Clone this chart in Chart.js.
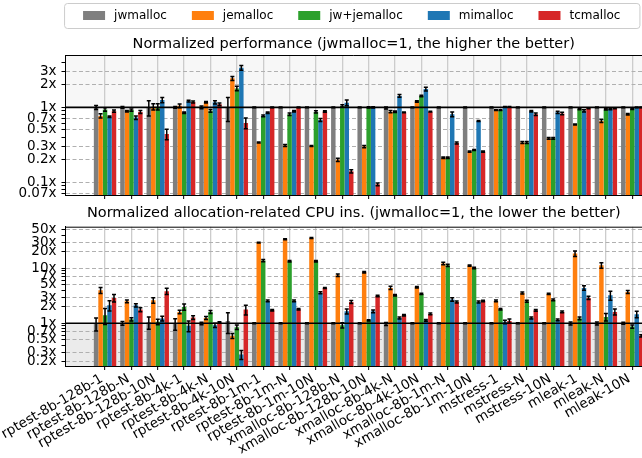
<!DOCTYPE html>
<html>
<head>
<meta charset="utf-8">
<script src="https://cdn.jsdelivr.net/npm/chart.js@4.4.1/dist/chart.umd.min.js"></script>
<style>
  html, body { margin: 0; padding: 0; background: #fff; }
  #wrap { position: relative; width: 642px; height: 458px; overflow: hidden; }
  canvas { position: absolute; left: 0; }
  #perf { top: 0; }
  #cpu { top: 200px; }
</style>
</head>
<body>
<div id="wrap">
  <canvas id="perf" width="642" height="200"></canvas>
  <canvas id="cpu" width="642" height="258"></canvas>
</div>
<script>
const categories = ['rptest-8b-128b-1', 'rptest-8b-128b-N', 'rptest-8b-128b-10N', 'rptest-8b-4k-1',
  'rptest-8b-4k-N', 'rptest-8b-4k-10N', 'rptest-8b-1m-1', 'rptest-8b-1m-N', 'rptest-8b-1m-10N',
  'xmalloc-8b-128b-N', 'xmalloc-8b-128b-10N', 'xmalloc-8b-4k-N', 'xmalloc-8b-4k-10N',
  'xmalloc-8b-1m-N', 'xmalloc-8b-1m-10N', 'mstress-1', 'mstress-N', 'mstress-10N',
  'mleak-1', 'mleak-N', 'mleak-10N'];
const allocators = ['jwmalloc', 'jemalloc', 'jw+jemalloc', 'mimalloc', 'tcmalloc'];
const colors = ['#7f7f7f', '#ff7f0e', '#2ca02c', '#1f77b4', '#d62728'];

// normalized performance (higher is better)
const perfJw   = [1, 1, 1, 1, 1, 1, 1, 1, 1, 1, 1, 0.98, 1, 1, 1, 1, 1, 1, 1, 1, 1];
const perfJe   = [0.77, 0.89, 1.02, 1.05, 1.17, 2.44, 0.34, 0.31, 0.305, 0.2, 0.3, 0.875, 1.2, 0.213, 0.256, 0.92, 0.34, 0.386, 0.59, 0.66, 0.81];
const perfJwJe = [0.94, 0.92, 1.02, 0.85, 0.9, 1.79, 0.77, 0.81, 0.87, 1.04, 1.0, 0.875, 1.42, 0.213, 0.27, 0.92, 0.34, 0.386, 0.95, 0.94, 0.96];
const perfMi   = [0.75, 0.73, 1.25, 1.21, 1.17, 3.38, 0.85, 0.89, 0.68, 1.15, 1.0, 1.42, 1.76, 0.81, 0.66, 1.02, 0.89, 0.86, 0.9, 0.95, 1.0];
const perfTc   = [0.89, 0.87, 0.44, 1.18, 1.1, 0.62, 1.0, 1.0, 0.88, 0.14, 0.094, 0.86, 0.875, 0.335, 0.256, 1.02, 0.81, 0.83, 0.97, 0.97, 1.0];
const perfJwErr   = [0.06, 0.03, 0.23, 0.03, 0.04, 0.35, 0.01, 0.01, 0.01, 0.01, 0.01, 0.03, 0.01, 0.01, 0.01, 0.01, 0.01, 0.01, 0.01, 0.01, 0.01];
const perfJeErr   = [0.05, 0.02, 0.1, 0.06, 0.03, 0.15, 0.005, 0.01, 0.005, 0.01, 0.01, 0.03, 0.03, 0.005, 0.005, 0.01, 0.01, 0.01, 0.01, 0.03, 0.02];
const perfJwJeErr = [0.05, 0.03, 0.1, 0.02, 0.04, 0.12, 0.02, 0.03, 0.03, 0.04, 0.02, 0.02, 0.03, 0.005, 0.005, 0.01, 0.01, 0.01, 0.02, 0.02, 0.02];
const perfMiErr   = [0.02, 0.04, 0.1, 0.03, 0.06, 0.25, 0.02, 0.02, 0.03, 0.1, 0.02, 0.06, 0.1, 0.06, 0.01, 0.01, 0.02, 0.03, 0.03, 0.02, 0.01];
const perfTcErr   = [0.03, 0.04, 0.07, 0.04, 0.04, 0.1, 0.01, 0.01, 0.02, 0.007, 0.004, 0.01, 0.01, 0.01, 0.005, 0.01, 0.03, 0.03, 0.01, 0.01, 0.01];

// normalized allocation-related CPU instructions (lower is better)
const cpuJw   = [0.98, 1.0, 1.04, 0.98, 0.99, 1.1, 1, 1, 1, 1, 1, 0.97, 1, 1, 1, 1, 1, 1, 0.99, 0.99, 1];
const cpuJe   = [3.98, 2.51, 2.62, 1.61, 1.25, 0.59, 29.3, 33.7, 35.6, 7.47, 8.47, 4.39, 4.52, 12.2, 11.2, 2.55, 3.56, 3.42, 18.5, 11.3, 3.71];
const cpuJwJe = [1.4, 1.18, 1.06, 1.98, 1.61, 0.85, 13.8, 13.4, 13.4, 0.92, 1.13, 3.23, 3.42, 11.3, 10.1, 1.8, 2.51, 2.66, 1.23, 1.3, 0.87];
const cpuMi   = [2.12, 2.12, 1.22, 0.9, 0.92, 0.27, 2.55, 2.55, 3.6, 1.65, 1.65, 1.25, 1.13, 2.7, 2.44, 1.06, 1.25, 1.15, 4.39, 3.23, 1.46];
const cpuTc   = [2.89, 1.77, 3.82, 1.27, 1.03, 1.77, 1.72, 1.8, 4.39, 2.44, 3.14, 1.4, 1.48, 2.44, 2.55, 1.1, 1.72, 1.61, 2.89, 1.61, 0.59];
const cpuJwErr   = [0.26, 0.08, 0.26, 0.23, 0.05, 0.45, 0.02, 0.02, 0.02, 0.02, 0.02, 0.06, 0.02, 0.02, 0.02, 0.02, 0.02, 0.02, 0.06, 0.06, 0.04];
const cpuJeErr   = [0.5, 0.15, 0.3, 0.12, 0.08, 0.06, 0.5, 0.8, 0.8, 0.4, 0.3, 0.3, 0.15, 0.6, 0.3, 0.1, 0.15, 0.1, 2.2, 1.3, 0.25];
const cpuJwJeErr = [0.45, 0.08, 0.12, 0.25, 0.1, 0.08, 0.6, 0.4, 0.4, 0.1, 0.03, 0.1, 0.1, 0.5, 0.3, 0.06, 0.1, 0.1, 0.07, 0.2, 0.06];
const cpuMiErr   = [0.45, 0.15, 0.12, 0.2, 0.08, 0.05, 0.1, 0.1, 0.15, 0.17, 0.1, 0.05, 0.04, 0.2, 0.1, 0.08, 0.05, 0.04, 0.4, 0.6, 0.2];
const cpuTcErr   = [0.45, 0.15, 0.5, 0.1, 0.03, 0.35, 0.05, 0.05, 0.1, 0.15, 0.1, 0.05, 0.05, 0.1, 0.08, 0.1, 0.06, 0.06, 0.2, 0.2, 0.03];

// y tick labels
const perfTicks = [0.07, 0.1, 0.2, 0.3, 0.5, 0.7, 1, 2, 3];
const perfMinorTicks = [0.08, 0.09, 0.4, 0.6, 0.8, 0.9, 4];
const cpuTicks = [0.2, 0.3, 0.5, 0.7, 1, 2, 3, 5, 7, 10, 20, 30, 50];
const cpuMinorTicks = [0.4, 0.6, 0.8, 0.9, 4, 6, 8, 9, 40];

const FONT = '"DejaVu Sans", sans-serif';

// shaded "better" region, error bars, the 1x reference line and the top spine
const panelDecor = {
  id: 'panelDecor',
  beforeDraw(chart, args, opts) {
    const { ctx, chartArea: a } = chart;
    const y1 = chart.scales.y.getPixelForValue(1);
    ctx.save();
    ctx.fillStyle = opts.shade;
    if (opts.better === 'above') ctx.fillRect(a.left, a.top, a.right - a.left, y1 - a.top);
    else ctx.fillRect(a.left, y1, a.right - a.left, a.bottom - y1);
    ctx.restore();
  },
  afterDatasetsDraw(chart) {
    const { ctx, chartArea: a } = chart;
    const ys = chart.scales.y;
    ctx.save();
    ctx.beginPath();
    ctx.rect(a.left, a.top, a.right - a.left, a.bottom - a.top);
    ctx.clip();
    ctx.strokeStyle = '#000';
    ctx.lineWidth = 1.5;
    chart.data.datasets.forEach((ds, di) => {
      chart.getDatasetMeta(di).data.forEach((bar, i) => {
        const v = ds.data[i].y, e = ds.errors[i];
        const top = ys.getPixelForValue(v + e);
        const bot = ys.getPixelForValue(Math.max(v - e, ys.min));
        ctx.beginPath();
        ctx.moveTo(bar.x, top); ctx.lineTo(bar.x, bot);
        ctx.moveTo(bar.x - 2, top); ctx.lineTo(bar.x + 2, top);
        ctx.moveTo(bar.x - 2, bot); ctx.lineTo(bar.x + 2, bot);
        ctx.stroke();
      });
    });
    const y1 = ys.getPixelForValue(1);
    ctx.lineWidth = 1.6;
    ctx.beginPath();
    ctx.moveTo(a.left, y1); ctx.lineTo(a.right, y1);
    ctx.stroke();
    ctx.restore();
    ctx.save();
    ctx.strokeStyle = '#000';
    ctx.lineWidth = 1;
    ctx.beginPath();
    ctx.moveTo(a.left, a.top + 0.5); ctx.lineTo(a.right, a.top + 0.5);
    ctx.stroke();
    ctx.restore();
  }
};

// matplotlib-like framed legend above the top panel
const boxLegend = {
  id: 'boxLegend',
  afterDraw(chart, args, opts) {
    if (!opts.show) return;
    const { ctx, chartArea: a } = chart;
    const items = chart.data.datasets;
    ctx.save();
    ctx.font = '12px ' + FONT;
    const handleW = 22, handleH = 9, textGap = 9, colGap = 25, padX = 19, boxH = 25, cy = 15.5;
    const widths = items.map(d => handleW + textGap + ctx.measureText(d.label).width);
    const total = widths.reduce((s, w) => s + w, 0) + colGap * (items.length - 1);
    let x = (a.left + a.right) / 2 - total / 2 - 2;
    ctx.beginPath();
    ctx.roundRect(x - padX + 0.5, cy - boxH / 2 + 0.5, total + 2 * padX, boxH, 3);
    ctx.fillStyle = 'rgba(255,255,255,0.8)';
    ctx.fill();
    ctx.strokeStyle = '#cccccc';
    ctx.lineWidth = 1;
    ctx.stroke();
    ctx.textBaseline = 'middle';
    ctx.textAlign = 'left';
    items.forEach((d, i) => {
      ctx.fillStyle = d.backgroundColor;
      ctx.fillRect(x, cy - handleH / 2, handleW, handleH);
      ctx.fillStyle = '#000';
      ctx.fillText(d.label, x + handleW + textGap, cy + 0.5);
      x += widths[i] + colGap;
    });
    ctx.restore();
  }
};

function makeDatasets(series, errs) {
  return allocators.map((name, k) => ({
    label: name,
    data: series[k].map((v, i) => ({ x: i, y: v })),
    errors: errs[k],
    backgroundColor: colors[k],
    borderWidth: 0,
    categoryPercentage: 0.85,
    barPercentage: 1.0
  }));
}

function makeChart(id, title, series, errs, majors, minors, yMin, yMax, cfg) {
  const allTicks = majors.concat(minors).sort((p, q) => p - q);
  return new Chart(document.getElementById(id).getContext('2d'), {
    type: 'bar',
    data: { datasets: makeDatasets(series, errs) },
    plugins: [panelDecor, boxLegend],
    options: {
      responsive: false,
      animation: false,
      devicePixelRatio: 1,
      layout: { padding: cfg.padding },
      plugins: {
        legend: { display: false },
        tooltip: { enabled: false },
        title: {
          display: true, text: title, fullSize: false, color: '#000',
          font: { family: FONT, size: 14.5, weight: 'normal' },
          padding: cfg.titlePad
        },
        panelDecor: { better: cfg.better, shade: cfg.shade },
        boxLegend: { show: cfg.legend }
      },
      scales: {
        x: {
          type: 'linear',
          min: -1.5, max: 20.37,
          offset: false,
          afterBuildTicks: s => { s.ticks = categories.map((c, i) => ({ value: i })); },
          afterFit: s => { s.height = cfg.xHeight; s.paddingLeft = 0; s.paddingRight = 0; },
          grid: { color: '#cccccc', lineWidth: 1.3, offset: false, tickColor: '#000', tickLength: 4, tickWidth: 1 },
          border: { display: true, color: '#000', width: 1 },
          ticks: {
            display: cfg.showLabels, autoSkip: false, minRotation: 30, maxRotation: 30,
            padding: 1, labelOffset: -3, color: '#000',
            font: { family: FONT, size: 13.5 },
            callback: v => categories[v]
          }
        },
        y: {
          type: 'logarithmic',
          min: yMin, max: yMax,
          afterBuildTicks: s => { s.ticks = allTicks.map(v => ({ value: v })); },
          afterFit: s => { s.width = 65.5; s.paddingTop = 0; s.paddingBottom = 0; },
          grid: {
            color: c => (c.tick && c.tick.value !== 1 && majors.includes(c.tick.value)) ? '#b0b0b0' : 'rgba(0,0,0,0)',
            lineWidth: 1, tickColor: '#000', tickLength: 4, tickWidth: 1
          },
          border: { display: true, color: '#000', width: 1, dash: [4, 2.5] },
          ticks: {
            autoSkip: false, padding: 5, color: '#000',
            font: { family: FONT, size: 13.5 },
            callback: v => majors.includes(v) ? v + 'x' : ''
          }
        }
      }
    }
  });
}

makeChart('perf', 'Normalized performance (jwmalloc=1, the higher the better)',
  [perfJw, perfJe, perfJwJe, perfMi, perfTc],
  [perfJwErr, perfJeErr, perfJwJeErr, perfMiErr, perfTcErr],
  perfTicks, perfMinorTicks, 0.0677, 5,
  { padding: { top: 27, left: 0, right: 0, bottom: 1 }, titlePad: { top: 8.3, bottom: 2.3 },
    xHeight: 4, showLabels: false, better: 'above', shade: '#f7f7f7', legend: true });

makeChart('cpu', 'Normalized allocation-related CPU ins. (jwmalloc=1, the lower the better)',
  [cpuJw, cpuJe, cpuJwJe, cpuMi, cpuTc],
  [cpuJwErr, cpuJeErr, cpuJwJeErr, cpuMiErr, cpuTcErr],
  cpuTicks, cpuMinorTicks, 0.167, 57,
  { padding: { top: 0, left: 0, right: 0, bottom: 0 }, titlePad: { top: 4.6, bottom: 4.7 },
    xHeight: 92, showLabels: true, better: 'below', shade: '#ebebeb', legend: false });
</script>
</body>
</html>
